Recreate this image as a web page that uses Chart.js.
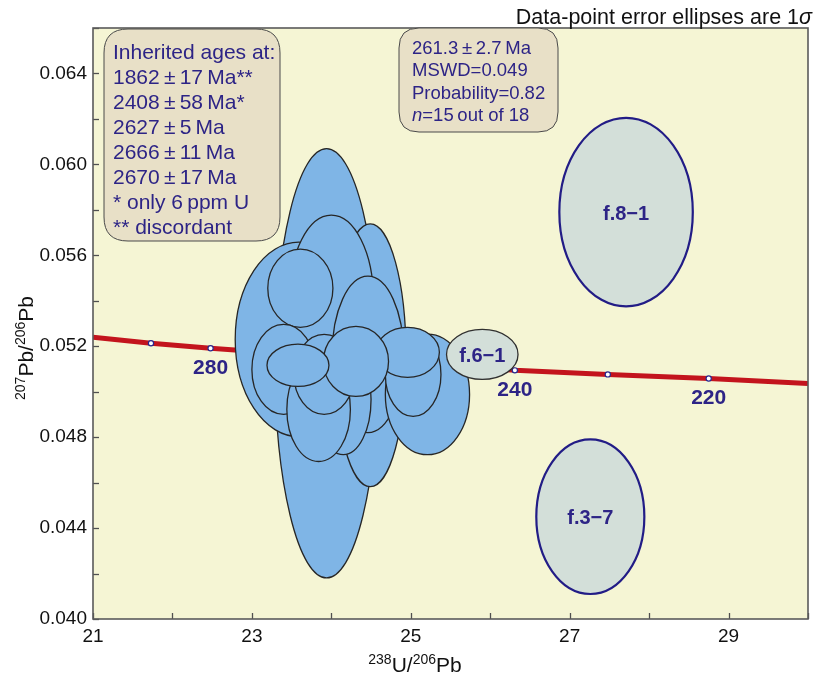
<!DOCTYPE html>
<html>
<head>
<meta charset="utf-8">
<script src="https://cdn.jsdelivr.net/npm/chart.js@4.4.1/dist/chart.umd.min.js"></script>
<style>
  html, body { margin: 0; padding: 0; background: #fff; }
</style>
</head>
<body>
<canvas id="chart" width="814" height="674"></canvas>
<script>
// concordia curve (238U/206Pb, 207Pb/206Pb)
const concordiaX = [21.0, 21.73, 22.48, 26.31, 27.48, 28.75, 30.0];
const concordiaY = [0.0524, 0.05213, 0.05191, 0.05094, 0.05076, 0.05058, 0.05036];

// age marks on the concordia (Ma)
const ageMa = [290, 280, 240, 230, 220];
const ageX = [21.73, 22.48, 26.31, 27.48, 28.75];
const ageY = [0.05213, 0.05191, 0.05094, 0.05076, 0.05058];
const labelledAges = [280, 240, 220];

// zircon spots used in the age (1 sigma), back to front
const spotX  = [23.94, 23.59, 24.49, 24.00, 24.46, 23.61, 23.40, 24.15, 23.84, 23.91, 25.21, 25.03, 24.96, 24.31, 23.58];
const spotY  = [0.05125, 0.05230, 0.05160, 0.05407, 0.05164, 0.05455, 0.05098, 0.04966, 0.04922, 0.05076, 0.04988, 0.05076, 0.05173, 0.05133, 0.05116];
const spotSx = [0.65, 0.80, 0.45, 0.53, 0.45, 0.41, 0.40, 0.35, 0.40, 0.38, 0.53, 0.35, 0.40, 0.41, 0.39];
const spotSy = [0.00944, 0.00428, 0.00578, 0.00370, 0.00344, 0.00172, 0.00198, 0.00243, 0.00229, 0.00176, 0.00265, 0.00185, 0.00110, 0.00154, 0.00093];

// rejected spots
const rejectedNames = ['f.8\u22121', 'f.6\u22121', 'f.3\u22127'];
const rejectedX  = [27.71, 25.90, 27.26];
const rejectedY  = [0.05790, 0.05164, 0.04450];
const rejectedSx = [0.84, 0.45, 0.68];
const rejectedSy = [0.00415, 0.00110, 0.00340];

// y tick labels every 0.004, minor ticks every 0.002
const yLabelled = [0.040, 0.044, 0.048, 0.052, 0.056, 0.060, 0.064];

const inheritedLines = [
  'Inherited ages at:',
  '1862\u2009\u00b1\u200917\u2009Ma**',
  '2408\u2009\u00b1\u200958\u2009Ma*',
  '2627\u2009\u00b1\u20095\u2009Ma',
  '2666\u2009\u00b1\u200911\u2009Ma',
  '2670\u2009\u00b1\u200917\u2009Ma',
  '* only 6\u2009ppm U',
  '** discordant'
];
const resultLines = ['261.3\u2009\u00b1\u20092.7\u2009Ma', 'MSWD=0.049', 'Probability=0.82'];

const FONT = '"Liberation Sans", Arial, sans-serif';
const NAVY = '#2d2486';

function roundBox(ctx, x, y, w, h, r) {
  ctx.beginPath();
  ctx.moveTo(x + r, y);
  ctx.lineTo(x + w - r, y);
  ctx.quadraticCurveTo(x + w, y, x + w, y + r);
  ctx.lineTo(x + w, y + h - r);
  ctx.quadraticCurveTo(x + w, y + h, x + w - r, y + h);
  ctx.lineTo(x + r, y + h);
  ctx.quadraticCurveTo(x, y + h, x, y + h - r);
  ctx.lineTo(x, y + r);
  ctx.quadraticCurveTo(x, y, x + r, y);
  ctx.closePath();
}

// text with superscripts, parts = [[text, isSup], ...]
function supText(ctx, parts, size) {
  let w = 0;
  parts.forEach(p => {
    ctx.font = (p[1] ? Math.round(size * 0.68) : size) + 'px ' + FONT;
    w += ctx.measureText(p[0]).width;
  });
  let cx = -w / 2;
  parts.forEach(p => {
    ctx.font = (p[1] ? Math.round(size * 0.68) : size) + 'px ' + FONT;
    ctx.fillText(p[0], cx, p[1] ? -size * 0.38 : 0);
    cx += ctx.measureText(p[0]).width;
  });
}

const plotBg = {
  id: 'plotBg',
  beforeDraw(chart) {
    const { ctx, chartArea: a } = chart;
    ctx.save();
    ctx.fillStyle = '#f5f5d4';
    ctx.fillRect(a.left, a.top, a.right - a.left, a.bottom - a.top);
    ctx.restore();
  }
};

const ellipses = {
  id: 'ellipses',
  afterDatasetsDraw(chart) {
    const { ctx, chartArea: a, scales: { x, y } } = chart;
    ctx.save();
    ctx.beginPath();
    ctx.rect(a.left, a.top, a.right - a.left, a.bottom - a.top);
    ctx.clip();

    function one(cx, cy, sx, sy, fill, stroke, lw) {
      const px = x.getPixelForValue(cx), py = y.getPixelForValue(cy);
      const rx = Math.abs(x.getPixelForValue(cx + sx) - px);
      const ry = Math.abs(y.getPixelForValue(cy + sy) - py);
      ctx.beginPath();
      ctx.ellipse(px, py, rx, ry, 0, 0, Math.PI * 2);
      ctx.fillStyle = fill;
      ctx.fill();
      ctx.lineWidth = lw;
      ctx.strokeStyle = stroke;
      ctx.stroke();
    }

    ctx.lineJoin = 'round';
    // f.8-1 and f.3-7 behind, f.6-1 sits over the cluster edge
    one(rejectedX[0], rejectedY[0], rejectedSx[0], rejectedSy[0], '#d3dfd9', '#221c86', 2.2);
    one(rejectedX[2], rejectedY[2], rejectedSx[2], rejectedSy[2], '#d3dfd9', '#221c86', 2.2);

    for (let i = 0; i < spotX.length; i++) {
      one(spotX[i], spotY[i], spotSx[i], spotSy[i], '#7fb5e6', '#262626', 1.3);
    }
    one(rejectedX[1], rejectedY[1], rejectedSx[1], rejectedSy[1], '#d3dfd9', '#303030', 1.3);

    // names of rejected spots
    ctx.fillStyle = NAVY;
    ctx.font = 'bold 20px ' + FONT;
    ctx.textAlign = 'center';
    ctx.textBaseline = 'middle';
    rejectedNames.forEach((n, i) => {
      ctx.fillText(n, x.getPixelForValue(rejectedX[i]), y.getPixelForValue(rejectedY[i]) + 2);
    });

    // age labels under the concordia marks
    ctx.font = 'bold 21px ' + FONT;
    ageMa.forEach((age, i) => {
      if (labelledAges.indexOf(age) < 0) return;
      ctx.fillText(String(age), x.getPixelForValue(ageX[i]), y.getPixelForValue(ageY[i]) + 20);
    });
    ctx.restore();
  }
};

const frameAndText = {
  id: 'frameAndText',
  afterDraw(chart) {
    const { ctx, chartArea: a, scales: { x, y } } = chart;
    ctx.save();

    // inward tick marks
    ctx.strokeStyle = '#505050';
    ctx.lineWidth = 1.3;
    x.ticks.forEach(t => {
      const px = Math.round(x.getPixelForValue(t.value)) + 0.5;
      ctx.beginPath();
      ctx.moveTo(px, a.bottom);
      ctx.lineTo(px, a.bottom - 6);
      ctx.stroke();
    });
    y.ticks.forEach(t => {
      const py = Math.round(y.getPixelForValue(t.value)) + 0.5;
      ctx.beginPath();
      ctx.moveTo(a.left, py);
      ctx.lineTo(a.left + 6, py);
      ctx.stroke();
    });

    // frame
    ctx.strokeStyle = '#5a5a5a';
    ctx.lineWidth = 1.6;
    ctx.strokeRect(a.left, a.top, a.right - a.left, a.bottom - a.top);

    // boxes
    ctx.lineWidth = 1;
    ctx.strokeStyle = '#4a4a4a';
    ctx.fillStyle = '#e8e0c7';
    roundBox(ctx, a.left + 11, a.top + 1, 176, 212, 24);
    ctx.fill(); ctx.stroke();
    ctx.fillStyle = '#e8e0c7';
    roundBox(ctx, a.left + 306, a.top, 159, 104, 20);
    ctx.fill(); ctx.stroke();

    ctx.fillStyle = NAVY;
    ctx.textAlign = 'left';
    ctx.textBaseline = 'middle';
    ctx.font = '21px ' + FONT;
    inheritedLines.forEach((s, i) => {
      ctx.fillText(s, a.left + 20, a.top + 25 + i * 25);
    });
    ctx.font = '18.5px ' + FONT;
    resultLines.forEach((s, i) => {
      ctx.fillText(s, a.left + 319, a.top + 21 + i * 22.3);
    });
    ctx.font = 'italic 18.5px ' + FONT;
    ctx.fillText('n', a.left + 319, a.top + 88);
    const nw = ctx.measureText('n').width;
    ctx.font = '18.5px ' + FONT;
    ctx.fillText('=15\u2009out of 18', a.left + 319 + nw, a.top + 88);

    // top-right note
    ctx.fillStyle = '#111';
    ctx.textAlign = 'right';
    ctx.font = 'italic 21.5px ' + FONT;
    const sw = ctx.measureText('\u03c3').width;
    ctx.fillText('\u03c3', 812, 18);
    ctx.font = '21.5px ' + FONT;
    ctx.fillText('Data-point error ellipses are 1', 812 - sw, 18);

    // axis titles
    ctx.textAlign = 'left';
    ctx.textBaseline = 'alphabetic';
    ctx.save();
    ctx.translate(415, 672);
    supText(ctx, [['238', true], ['U/', false], ['206', true], ['Pb', false]], 21);
    ctx.restore();
    ctx.save();
    ctx.translate(33, 348);
    ctx.rotate(-Math.PI / 2);
    supText(ctx, [['207', true], ['Pb/', false], ['206', true], ['Pb', false]], 21);
    ctx.restore();

    ctx.restore();
  }
};

new Chart(document.getElementById('chart'), {
  type: 'scatter',
  data: {
    datasets: [
      {
        label: 'age marks',
        data: ageX.map((v, i) => ({ x: v, y: ageY[i] })),
        pointStyle: 'circle',
        pointRadius: 2.6,
        backgroundColor: '#ffffff',
        borderColor: '#27278f',
        borderWidth: 1.2
      },
      {
        type: 'line',
        label: 'concordia',
        data: concordiaX.map((v, i) => ({ x: v, y: concordiaY[i] })),
        borderColor: '#c3141d',
        borderWidth: 5,
        pointRadius: 0,
        tension: 0,
        fill: false
      }
    ]
  },
  options: {
    responsive: false,
    animation: false,
    devicePixelRatio: 1,
    layout: { padding: { top: 28, right: 4, left: 0, bottom: 0 } },
    plugins: { legend: { display: false }, tooltip: { enabled: false }, title: { display: false } },
    scales: {
      x: {
        type: 'linear',
        min: 21,
        max: 30,
        grid: { display: false, tickLength: 0 },
        border: { display: false },
        ticks: {
          stepSize: 1,
          autoSkip: false,
          maxRotation: 0,
          padding: 6,
          color: '#111',
          font: { size: 19, family: FONT },
          callback: v => (Math.round(v) % 2 === 1 ? String(v) : '')
        },
        afterFit(s) { s.height = 55; }
      },
      y: {
        type: 'linear',
        min: 0.040,
        max: 0.066,
        grid: { display: false, tickLength: 0 },
        border: { display: false },
        ticks: {
          stepSize: 0.002,
          autoSkip: false,
          padding: 6,
          color: '#111',
          font: { size: 19, family: FONT },
          callback: v => (yLabelled.some(l => Math.abs(l - v) < 1e-6) ? v.toFixed(3) : '')
        },
        afterFit(s) { s.width = 93; }
      }
    }
  },
  plugins: [plotBg, ellipses, frameAndText]
});
</script>
</body>
</html>
